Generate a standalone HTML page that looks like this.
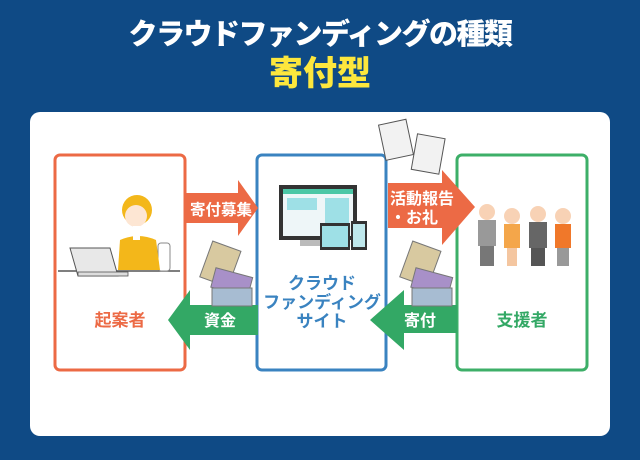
<!DOCTYPE html>
<html><head><meta charset="utf-8">
<style>
body{margin:0;width:640px;height:460px;background:#0f4a85;position:relative;overflow:hidden;font-family:"Liberation Sans","Noto Sans CJK JP",sans-serif;}
.t1{position:absolute;left:0;width:640px;top:18px;text-align:center;color:#fff;font-size:29px;font-weight:900;line-height:34px;letter-spacing:-1.5px}
.t2{position:absolute;left:0;width:640px;top:54px;text-align:center;color:#fde73d;font-size:34px;font-weight:900;line-height:40px}
svg{position:absolute;left:0;top:0}
</style></head><body>
<div class="t1">クラウドファンディングの種類</div>
<div class="t2">寄付型</div>
<svg width="640" height="460" font-family="Liberation Sans, Noto Sans CJK JP, sans-serif" font-weight="bold">
<rect x="30" y="112" width="580" height="324" rx="10" fill="#fff"/>
<rect x="55" y="155" width="130" height="215" rx="5" fill="none" stroke="#ec6a45" stroke-width="3"/>
<rect x="257" y="155" width="129" height="215" rx="5" fill="none" stroke="#3a83c0" stroke-width="3"/>
<rect x="457" y="155" width="130" height="215" rx="5" fill="none" stroke="#3daf68" stroke-width="3"/>
<polygon points="185,193 238,193 238,180 258,208 238,236 238,223 185,223" fill="#ec6a45"/>
<polygon points="258,305 190,305 190,290 168,320 190,350 190,335 258,335" fill="#33a865"/>
<polygon points="388,183 442,183 442,170 475,207 442,245 442,228 388,228" fill="#ec6a45"/>
<polygon points="457,305 404,305 404,290 370,320 404,350 404,333 457,333" fill="#33a865"/>
<text x="221" y="215" fill="#fff" font-size="15.5" text-anchor="middle">寄付募集</text>
<text x="220" y="326" fill="#fff" font-size="16" text-anchor="middle">資金</text>
<text x="390" y="204" fill="#fff" font-size="16">活動報告</text>
<text x="390" y="223" fill="#fff" font-size="16">・お礼</text>
<text x="420" y="326" fill="#fff" font-size="16" text-anchor="middle">寄付</text>
<text x="120" y="326" fill="#ec6a45" font-size="17" text-anchor="middle">起案者</text>
<text x="522" y="326" fill="#33a865" font-size="17" text-anchor="middle">支援者</text>
<text fill="#3a83c0" font-size="17" text-anchor="middle"><tspan x="322" y="289">クラウド</tspan><tspan x="322" y="308">ファンディング</tspan><tspan x="322" y="327">サイト</tspan></text>
<line x1="58" y1="271" x2="180" y2="271" stroke="#555" stroke-width="1.5"/>
<rect x="158" y="243" width="12" height="28" rx="3" fill="#fff" stroke="#888"/>
<path d="M120 240 q18-8 36 0 l4 30 h-42z" fill="#f3b71a"/>
<circle cx="137" cy="210" r="15" fill="#f3b71a"/>
<circle cx="136" cy="216" r="11" fill="#fde6d3"/>
<rect x="133" y="226" width="7" height="14" fill="#fff"/>
<polygon points="70,248 110,248 118,276 78,276" fill="#e8e8e8" stroke="#555"/>
<rect x="78" y="272" width="50" height="4" fill="#ddd" stroke="#555" stroke-width=".8"/>
<g transform="rotate(20 220 265)"><rect x="205" y="245" width="30" height="38" fill="#d8c9a0" stroke="#777"/></g>
<g transform="rotate(15 230 285)"><rect x="212" y="272" width="38" height="20" fill="#a890c8" stroke="#777"/></g>
<rect x="212" y="288" width="40" height="18" fill="#a7bcd2" stroke="#777"/>
<g transform="rotate(20 420 265)"><rect x="405" y="245" width="30" height="38" fill="#d8c9a0" stroke="#777"/></g>
<g transform="rotate(15 430 285)"><rect x="412" y="272" width="38" height="20" fill="#a890c8" stroke="#777"/></g>
<rect x="412" y="288" width="40" height="18" fill="#a7bcd2" stroke="#777"/>
<rect x="279" y="185" width="78" height="55" fill="#333"/>
<rect x="283" y="189" width="70" height="47" fill="#eef6f8"/>
<rect x="283" y="189" width="70" height="5" fill="#4cc7a6"/>
<rect x="287" y="198" width="30" height="12" fill="#9ee0e6"/>
<rect x="325" y="198" width="24" height="30" fill="#9ee0e6"/>
<rect x="300" y="240" width="30" height="6" fill="#bbb"/>
<rect x="320" y="223" width="30" height="27" fill="#333"/>
<rect x="322" y="226" width="26" height="21" fill="#9ee0e6"/>
<rect x="351" y="221" width="16" height="29" fill="#333"/>
<rect x="353" y="224" width="12" height="23" fill="#bfe8ec"/>
<g transform="rotate(-12 395 140)"><rect x="382" y="122" width="28" height="36" fill="#f2f2f2" stroke="#555"/></g>
<g transform="rotate(10 428 155)"><rect x="414" y="136" width="28" height="36" fill="#f2f2f2" stroke="#555"/></g>
<g>
<circle cx="487" cy="212" r="8" fill="#f8d2b5"/><rect x="478" y="220" width="18" height="26" fill="#999"/><rect x="480" y="246" width="14" height="20" fill="#777"/>
<circle cx="512" cy="216" r="8" fill="#f8d2b5"/><rect x="504" y="224" width="16" height="24" fill="#f4a64a"/><rect x="507" y="248" width="10" height="18" fill="#f4c6a0"/>
<circle cx="538" cy="214" r="8" fill="#f8d2b5"/><rect x="529" y="222" width="18" height="26" fill="#666"/><rect x="531" y="248" width="14" height="18" fill="#555"/>
<circle cx="563" cy="216" r="8" fill="#f8d2b5"/><rect x="555" y="224" width="16" height="24" fill="#f0782a"/><rect x="557" y="248" width="12" height="18" fill="#999"/>
</g>
</svg>
</body></html>
